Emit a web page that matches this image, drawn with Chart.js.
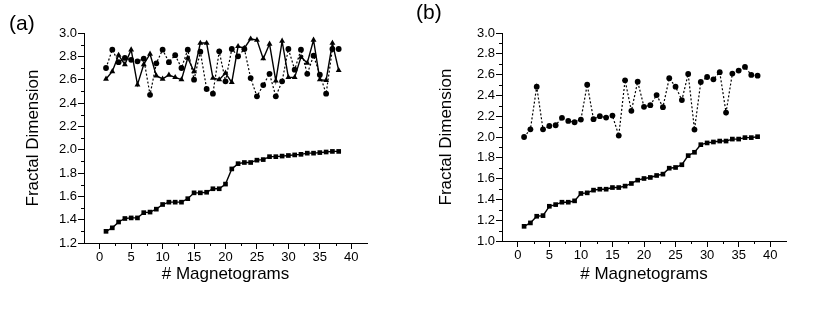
<!DOCTYPE html>
<html>
<head>
<meta charset="utf-8">
<script src="https://cdn.jsdelivr.net/npm/chart.js@4.4.1/dist/chart.umd.min.js"></script>
<style>
  body { margin: 0; background: #fff; width: 830px; height: 313px; position: relative; overflow: hidden; font-family: "Liberation Sans", Arial, sans-serif; }
  .panel { position: absolute; top: 0; width: 415px; height: 313px; }
  .tag { position: absolute; font-size: 21px; color: #000; line-height: 1; }
</style>
</head>
<body>
<div class="panel" style="left:0"><canvas id="chartA" width="415" height="313"></canvas></div>
<div class="panel" style="left:415px"><canvas id="chartB" width="415" height="313"></canvas></div>
<div class="tag" style="left:9px;top:12px">(a)</div>
<div class="tag" style="left:416px;top:1px">(b)</div>
<script>
// x values (magnetogram number)
const magnetograms = [1, 2, 3, 4, 5, 6, 7, 8, 9, 10, 11, 12, 13, 14, 15, 16, 17, 18, 19,
    20, 21, 22, 23, 24, 25, 26, 27, 28, 29, 30, 31, 32, 33, 34, 35, 36, 37, 38];

// panel (a)
const aSquares = [1.30, 1.33, 1.38, 1.41, 1.415, 1.415, 1.46, 1.465, 1.49, 1.53, 1.55, 1.55, 1.55,
    1.58, 1.63, 1.63, 1.635, 1.665, 1.665, 1.705, 1.835, 1.88, 1.89, 1.89, 1.91, 1.915, 1.94,
    1.94, 1.945, 1.95, 1.955, 1.96, 1.97, 1.97, 1.975, 1.98, 1.985, 1.985];
const aCircles = [2.70, 2.857, 2.75, 2.786, 2.77, 2.757, 2.78, 2.47, 2.74, 2.857, 2.75, 2.81, 2.70,
    2.857, 2.60, 2.84, 2.52, 2.48, 2.843, 2.586, 2.863, 2.80, 2.863, 2.614, 2.457, 2.554, 2.65,
    2.457, 2.586, 2.863, 2.686, 2.857, 2.65, 2.806, 2.643, 2.48, 2.863, 2.863];
const aTriangles = [2.606, 2.67, 2.81, 2.73, 2.857, 2.557, 2.73, 2.82, 2.634, 2.606, 2.64, 2.62, 2.60,
    2.786, 2.67, 2.914, 2.914, 2.614, 2.60, 2.657, 2.577, 2.886, 2.87, 2.95, 2.94, 2.78, 2.906,
    2.59, 2.93, 2.62, 2.62, 2.794, 2.743, 2.94, 2.60, 2.594, 2.914, 2.68];

// panel (b)
const bSquares = [1.141, 1.174, 1.238, 1.244, 1.334, 1.35, 1.373, 1.373, 1.386, 1.457, 1.463, 1.489,
    1.498, 1.498, 1.514, 1.514, 1.528, 1.553, 1.585, 1.601, 1.611, 1.63, 1.643, 1.70, 1.707, 1.733,
    1.821, 1.853, 1.926, 1.943, 1.952, 1.961, 1.961, 1.98, 1.98, 1.994, 1.994, 2.003];
const bCircles = [2.0, 2.074, 2.484, 2.074, 2.106, 2.113, 2.184, 2.155, 2.142, 2.168, 2.503, 2.171,
    2.20, 2.187, 2.206, 2.014, 2.545, 2.252, 2.532, 2.29, 2.306, 2.403, 2.287, 2.565, 2.484, 2.355,
    2.606, 2.071, 2.529, 2.577, 2.555, 2.623, 2.235, 2.61, 2.639, 2.674, 2.597, 2.59];

// tick labels
const xTicks = [0, 5, 10, 15, 20, 25, 30, 35, 40];
const aYTicks = [1.2, 1.4, 1.6, 1.8, 2.0, 2.2, 2.4, 2.6, 2.8, 3.0];
const bYTicks = [1.0, 1.2, 1.4, 1.6, 1.8, 2.0, 2.2, 2.4, 2.6, 2.8, 3.0];

const FONT = '"Liberation Sans", Arial, sans-serif';

function toPoints(ys) {
    return magnetograms.map((x, i) => ({ x: x, y: ys[i] }));
}

function series(ys, style, radius, dotted) {
    return {
        data: toPoints(ys),
        showLine: true,
        borderColor: '#000',
        backgroundColor: '#000',
        borderWidth: dotted ? 1.2 : 1.4,
        borderDash: dotted ? [2, 2] : [],
        pointStyle: style,
        pointRadius: radius,
        pointBorderWidth: 0,
        pointBackgroundColor: '#000'
    };
}

// short ticks halfway between the labelled ones
const minorTicks = {
    id: 'minorTicks',
    afterDraw(chart) {
        const ctx = chart.ctx;
        const area = chart.chartArea;
        ctx.save();
        ctx.strokeStyle = '#000';
        ctx.lineWidth = 1;
        ['x', 'y'].forEach(id => {
            const sc = chart.scales[id];
            const major = sc.ticks.map(t => t.value);
            for (let i = 0; i < major.length - 1; i++) {
                const p = sc.getPixelForValue((major[i] + major[i + 1]) / 2);
                ctx.beginPath();
                if (id === 'x') {
                    const px = Math.round(p) + 0.5;
                    ctx.moveTo(px, area.bottom);
                    ctx.lineTo(px, area.bottom + 3);
                } else {
                    const py = Math.round(p) + 0.5;
                    ctx.moveTo(area.left, py);
                    ctx.lineTo(area.left - 3, py);
                }
                ctx.stroke();
            }
        });
        ctx.restore();
    }
};

function makeChart(canvasId, datasets, yTicks, yWidth, xHeight, pad, yTitlePad) {
    const ctx = document.getElementById(canvasId).getContext('2d');
    return new Chart(ctx, {
        type: 'scatter',
        data: { datasets },
        options: {
            responsive: false,
            animation: false,
            layout: { padding: pad },
            plugins: { legend: { display: false }, tooltip: { enabled: false } },
            scales: {
                x: {
                    type: 'linear',
                    min: -2.5,
                    max: 42.5,
                    afterBuildTicks: s => { s.ticks = xTicks.map(v => ({ value: v })); },
                    afterFit: s => { s.height = xHeight; },
                    grid: { drawOnChartArea: false, tickLength: 6, tickColor: '#000', color: '#000' },
                    border: { display: true, color: '#000', width: 1 },
                    ticks: { color: '#000', font: { size: 13, family: FONT }, padding: 1, maxRotation: 0,
                        callback: v => String(v) },
                    title: { display: true, text: '# Magnetograms', color: '#000',
                        font: { size: 17, family: FONT }, padding: { top: 28, bottom: 28 } }
                },
                y: {
                    type: 'linear',
                    min: yTicks[0],
                    max: yTicks[yTicks.length - 1],
                    afterBuildTicks: s => { s.ticks = yTicks.map(v => ({ value: v })); },
                    afterFit: s => { s.width = yWidth; },
                    grid: { drawOnChartArea: false, tickLength: 6, tickColor: '#000', color: '#000' },
                    border: { display: true, color: '#000', width: 1 },
                    ticks: { color: '#000', font: { size: 13, family: FONT }, padding: 1,
                        callback: v => Number(v).toFixed(1) },
                    title: { display: true, text: 'Fractal Dimension', color: '#000',
                        font: { size: 17, family: FONT }, padding: { top: yTitlePad, bottom: yTitlePad } }
                }
            }
        },
        plugins: [minorTicks]
    });
}

makeChart('chartA', [
    series(aCircles, 'circle', 2.9, true),
    series(aTriangles, 'triangle', 3.4, false),
    series(aSquares, 'rect', 3.3, false)
], aYTicks, 84, 70, { left: 0, top: 33, right: 48, bottom: 0 }, 23);

makeChart('chartB', [
    series(bCircles, 'circle', 2.9, true),
    series(bSquares, 'rect', 3.3, false)
], bYTicks, 87, 72, { left: 0, top: 33, right: 44, bottom: 0 }, 21);
</script>
</body>
</html>
